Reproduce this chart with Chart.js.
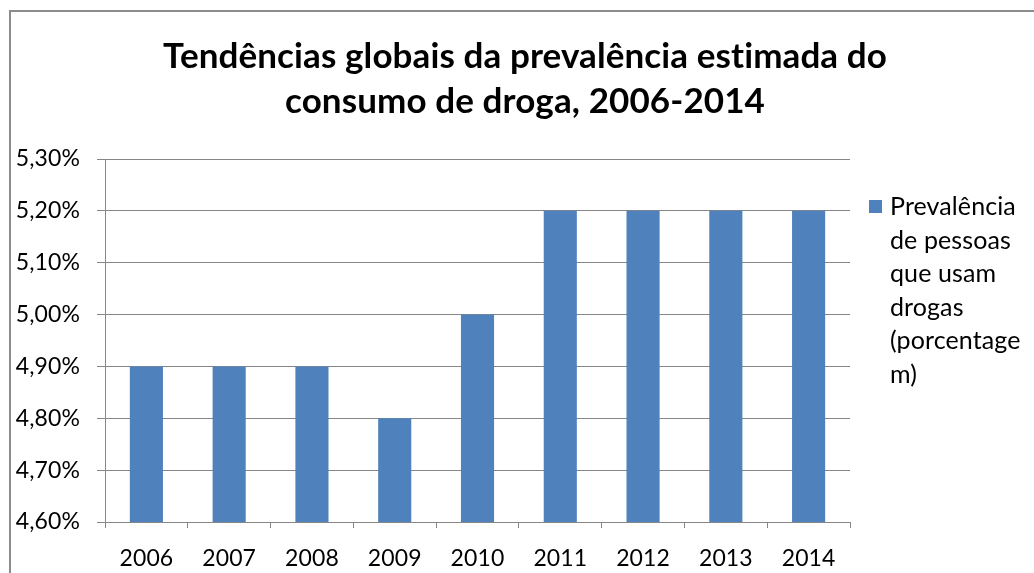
<!DOCTYPE html>
<html>
<head>
<meta charset="utf-8">
<script src="https://cdn.jsdelivr.net/npm/chart.js@4/dist/chart.umd.min.js"></script>
<style>
  html, body { margin: 0; padding: 0; background: #fff; overflow: hidden; }
  #wrap { position: relative; width: 1034px; height: 573px; }
  #moldura { position: absolute; left: 9px; top: 10px; width: 1100px; height: 700px;
             border: 2px solid #8c8c8c; pointer-events: none; }
</style>
</head>
<body>
<div id="wrap">
  <canvas id="chart" width="1034" height="573"></canvas>
  <div id="moldura"></div>
</div>
<script>
const anos = ['2006', '2007', '2008', '2009', '2010', '2011', '2012', '2013', '2014'];
const prevalencia = [4.9, 4.9, 4.9, 4.8, 5.0, 5.2, 5.2, 5.2, 5.2];
const legendaLinhas = ['Prevalência', 'de pessoas', 'que usam', 'drogas', '(porcentage', 'm)'];
const titulo = ['Tendências globais da prevalência estimada do', 'consumo de droga, 2006-2014'];
const eixoMin = 4.6, eixoMax = 5.3, passo = 0.1;

const cinza = '#868686';
const azul = '#4F81BD';

// sem ligaduras (fi, ti) como no Calibri original
const semLigaduras = {
  id: 'semLigaduras',
  beforeDraw(chart) { chart.ctx.letterSpacing = '0.1px'; }
};

// Legenda desenhada à direita (texto quebrado como no Excel)
const legendaPlugin = {
  id: 'legendaExcel',
  afterDraw(chart) {
    const area = chart.scales.legenda;
    const ctx = chart.ctx;
    const x0 = area.left + 19;
    const y0 = 200;
    ctx.save();
    ctx.fillStyle = chart.data.datasets[0].backgroundColor;
    ctx.fillRect(x0, y0, 13, 13);
    ctx.fillStyle = '#000';
    ctx.font = '25px Lato';
    ctx.textBaseline = 'middle';
    legendaLinhas.forEach((l, i) => ctx.fillText(l, x0 + 21, y0 + 7 + i * 33.5));
    ctx.restore();
  }
};

const ctx = document.getElementById('chart').getContext('2d');
new Chart(ctx, {
  type: 'bar',
  data: {
    labels: anos,
    datasets: [{
      label: legendaLinhas.join(' '),
      data: prevalencia,
      backgroundColor: azul,
      barPercentage: 0.4,
      categoryPercentage: 1
    }]
  },
  options: {
    responsive: false,
    animation: false,
    devicePixelRatio: 1,
    layout: { padding: { left: 16, right: 0, top: 0, bottom: 0 } },
    plugins: {
      legend: { display: false },
      tooltip: { enabled: false },
      title: {
        display: true,
        text: titulo,
        color: '#000',
        font: { family: 'Lato', size: 35, weight: 'bold', lineHeight: '45px' },
        padding: { top: 34, bottom: 35 }
      }
    },
    scales: {
      x: {
        grid: { drawOnChartArea: false, drawTicks: true, tickLength: 6, color: cinza, offset: true },
        border: { color: cinza, width: 1 },
        ticks: { color: '#000', font: { family: 'Lato', size: 23 }, padding: 17, maxRotation: 0 },
        afterFit(s) { s.height = 51; }
      },
      y: {
        min: eixoMin,
        max: eixoMax,
        grid: { color: cinza, tickLength: 8 },
        border: { color: cinza, width: 1 },
        ticks: {
          stepSize: passo,
          color: '#000',
          font: { family: 'Lato', size: 23 },
          padding: 17,
          callback: v => v.toFixed(2).replace('.', ',') + '%'
        },
        afterFit(s) { s.width = 89; }
      },
      legenda: {
        type: 'linear',
        position: 'right',
        grid: { display: false },
        border: { display: false },
        ticks: { display: false },
        afterFit(s) { s.width = 184; }
      }
    }
  },
  plugins: [semLigaduras, legendaPlugin]
});
</script>
</body>
</html>
